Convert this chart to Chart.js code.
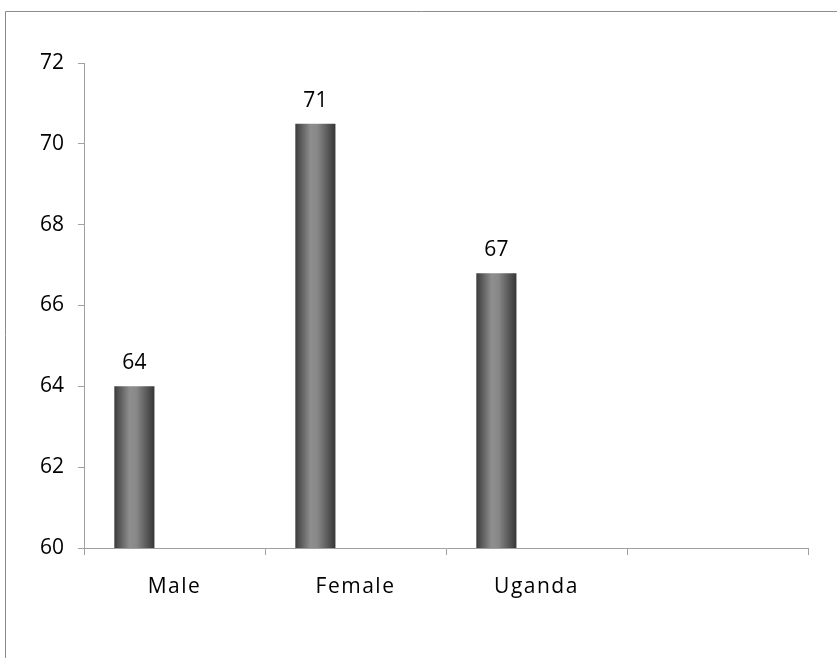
<!DOCTYPE html>
<html>
<head>
<meta charset="utf-8">
<script src="https://cdn.jsdelivr.net/npm/chart.js@4/dist/chart.umd.min.js"></script>
<style>
html,body{margin:0;padding:0;background:#fff;}
#wrap{position:relative;width:837px;height:658px;}
</style>
</head>
<body>
<div id="wrap"><canvas id="c" width="837" height="658"></canvas></div>
<script>
const categories = ["Male", "Female", "Uganda", ""];
const lifeExpectancy = [64, 70.5, 66.8, null];
const emptySeries2 = [null, null, null, null];
const emptySeries3 = [null, null, null, null];
const yTicks = [60, 62, 64, 66, 68, 70, 72];

const FONT = "'Open Sans', sans-serif";

const frame = {
  id: 'frame',
  beforeDraw(chart) {
    const ctx = chart.ctx;
    ctx.save();
    ctx.strokeStyle = '#8c8c8c';
    ctx.lineWidth = 1;
    ctx.beginPath();
    ctx.moveTo(5.5, 700);
    ctx.lineTo(5.5, 11.5);
    ctx.lineTo(900, 11.5);
    ctx.stroke();
    ctx.restore();
  }
};

const xSpacing = {
  id: 'xSpacing',
  beforeDraw(chart) {
    const xs = chart.scales.x;
    if (!xs._spacedPatched) {
      const orig = xs.drawLabels.bind(xs);
      xs.drawLabels = function (area) {
        const ctx = chart.ctx;
        ctx.save();
        ctx.letterSpacing = '1.5px';
        orig(area);
        ctx.restore();
      };
      xs._spacedPatched = true;
    }
  }
};

const cylinder = {
  id: 'cylinder',
  beforeDatasetsDraw(chart) {
    const ctx = chart.ctx;
    chart.data.datasets.forEach((ds, i) => {
      const meta = chart.getDatasetMeta(i);
      meta.data.forEach(el => {
        const w = el.width;
        const g = ctx.createLinearGradient(el.x - w / 2, 0, el.x + w / 2, 0);
        g.addColorStop(0, '#3c3c3c');
        g.addColorStop(0.38, '#8e8e8e');
        g.addColorStop(0.55, '#888888');
        g.addColorStop(1, '#363636');
        el.options = Object.assign({}, el.options, { backgroundColor: g });
      });
    });
  }
};

const valueLabels = {
  id: 'valueLabels',
  afterDatasetsDraw(chart) {
    const ctx = chart.ctx;
    const meta = chart.getDatasetMeta(0);
    ctx.save();
    ctx.letterSpacing = '0px';
    ctx.font = '21px ' + FONT;
    ctx.fillStyle = '#000';
    ctx.textAlign = 'center';
    ctx.textBaseline = 'middle';
    meta.data.forEach((el, i) => {
      const v = lifeExpectancy[i];
      if (v == null) return;
      ctx.fillText(String(Math.round(v)), el.x, el.y - 23);
    });
    ctx.restore();
  }
};

new Chart(document.getElementById('c'), {
  type: 'bar',
  data: {
    labels: categories,
    datasets: [
      { label: 'Series1', data: lifeExpectancy, backgroundColor: '#777' },
      { label: 'Series2', data: emptySeries2, backgroundColor: '#777' },
      { label: 'Series3', data: emptySeries3, backgroundColor: '#777' }
    ]
  },
  options: {
    responsive: false,
    animation: false,
    events: [],
    devicePixelRatio: 1,
    categoryPercentage: 0.665,
    barPercentage: 1,
    layout: { padding: { left: 0, right: 29, top: 63, bottom: 0 } },
    plugins: { legend: { display: false }, tooltip: { enabled: false } },
    scales: {
      x: {
        grid: { offset: true, drawOnChartArea: false, tickLength: 7, color: '#a0a0a0', tickColor: '#a0a0a0' },
        border: { color: '#a0a0a0', width: 1 },
        ticks: { color: '#000', font: { family: FONT, size: 21 }, padding: 19, maxRotation: 0 },
        afterFit(s) { s.height = 110; }
      },
      y: {
        min: 60, max: 72,
        afterBuildTicks(s) { s.ticks = yTicks.map(v => ({ value: v })); },
        grid: { drawOnChartArea: false, tickLength: 6, color: '#a0a0a0', tickColor: '#a0a0a0' },
        border: { color: '#a0a0a0', width: 1 },
        ticks: { color: '#000', font: { family: FONT, size: 21 }, padding: 14 },
        afterFit(s) { s.width = 84; }
      }
    }
  },
  plugins: [frame, xSpacing, cylinder, valueLabels]
});
</script>
</body>
</html>
